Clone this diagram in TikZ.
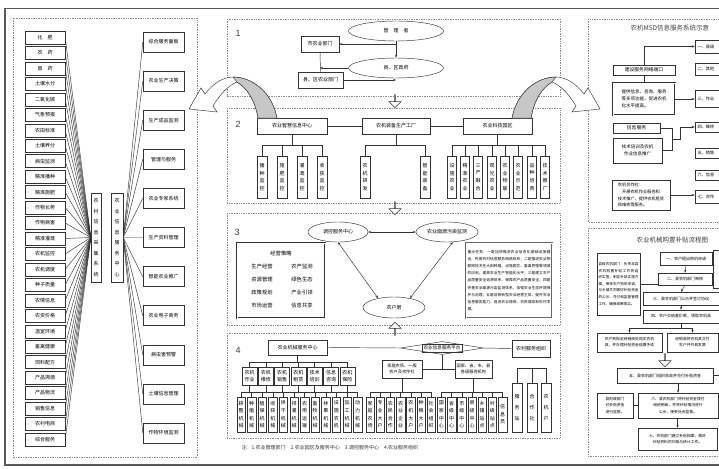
\documentclass[tikz,border=0pt]{standalone}
\usepackage{fontspec}
\setmainfont{Noto Sans CJK SC}
\newfontfamily\numfont{Liberation Sans}
\usetikzlibrary{shapes.geometric,shapes.arrows,arrows.meta}
\XeTeXlinebreaklocale "zh"
\XeTeXlinebreakskip=0pt plus 1pt
\newcommand\fsz[2]{\fontsize{#1}{#2}\selectfont}
\tikzset{
 ln/.style={line width=0.45pt, draw=black!80},
 bx/.style={ln, rectangle, inner sep=0pt, align=center, font=\fsz{5}{6}},
 vbx/.style={bx, text width=5.3pt, font=\fsz{5}{7.6}},
 frm/.style={draw=black!45, densely dotted, line width=0.7pt},
 arr/.style={ln, -{Stealth[length=3pt,width=2.2pt]}},
 darr/.style={ln, {Stealth[length=3pt,width=2.2pt]}-{Stealth[length=3pt,width=2.2pt]}},
 ell/.style={ln, ellipse, inner sep=0pt, font=\fsz{5}{6}},
 harr/.style={ln, single arrow, minimum height=13, minimum width=12, single arrow head extend=3pt, inner sep=0pt, fill=white},
 secnum/.style={font=\numfont\fontsize{9}{9}\selectfont, text=black!75},
 para/.style={ln, rectangle, inner sep=1.5pt, align=justify},
}
\begin{document}
\begin{tikzpicture}[x=1pt,y=-1pt]
\useasboundingbox (0,0) rectangle (719,468);
\clip (0,0) rectangle (719,468);
\fill[white] (0,0) rectangle (719,468);
\draw[black!65, line width=1.6pt] (5,8.5) rectangle (740,465);

% ---------- frames ----------
\draw[frm] (13,18) rectangle (197,457);
\draw[frm] (227,19) rectangle (560,96);
\draw[frm] (227,108) rectangle (560,203);
\draw[frm] (227,213) rectangle (560,325);
\draw[frm] (227,333) rectangle (560,438);
\draw[frm] (588,19) rectangle (740,222);
\draw[frm] (588,228) rectangle (740,456);

% ---------- left panel ----------
\node[vbx, minimum width=10, minimum height=89, font=\fsz{5}{10.5}] (b1) at (96,237.5) {农村信息采集系统};
\node[vbx, minimum width=12, minimum height=89, font=\fsz{5}{10.5}] (b2) at (117,237.5) {农业信息服务中心};
\foreach \t [count=\i from 0] in {化\quad 肥,农\quad 药,兽\quad 药,土壤水分,二氧化碳,气象预报,农田标准,土壤养分,病虫监测,精准播种,精准施肥,作物长势,作物病害,精准灌溉,农机监控,农机调度,种子质量,农情信息,农资价格,温室环境,畜禽健康,饲料配方,产品溯源,产品物流,销售信息,农村电商,综合服务} {
  \node[bx, minimum width=40, minimum height=13] (L\i) at (45,37.5+15.46*\i) {\t};
  \draw[ln] (L\i.east) -- (b1.west);
}
\foreach \t [count=\i from 0] in {综合服务面板,农业生产决策,生产成品监测,管理与服务,农业专家系统,生产资料管理,智能农业推广,农业电子商务,病虫害预警,土壤信息管理,作物环境监测} {
  \node[bx, minimum width=41, minimum height=20] (R\i) at (163.5,42+39.1*\i) {\t};
  \draw[ln] (b2.east) -- (R\i.west);
}

% ---------- section 1 ----------
\node[secnum] (n1) at (238,33) {1};
\node[ell, minimum width=95, minimum height=20] (e1) at (396,31) {管\quad 理\quad 者};
\node[ell, minimum width=95, minimum height=20] (e2) at (396,68) {县、区政府};
\node[bx, minimum width=38, minimum height=16] (m1) at (320,44) {市农业部门};
\node[bx, minimum width=45, minimum height=16] (m2) at (320.5,80) {县、区农业部门};
\draw[arr] (e1.south) |- (m1.east);
\draw[arr] (e1.south |- m1.east) -- (e2.north);
\draw[ln] (m1.south) -- (m2.north);
\draw[arr] (e2.west) -- (e2.west -| m1.south);
\draw[arr] (m2.east) -- (m2.east -| e2.south);
\node[harr, shape border rotate=270] (h1) at (395,101) {};

% ---------- section 2 ----------
\node[secnum] (n2) at (238,124) {2};
\coordinate (bus2) at (0,145);
\node[bx, minimum width=70, minimum height=16] (sA) at (292,126) {农业智慧信息中心};
\node[bx, minimum width=68, minimum height=16] (sB) at (396,126) {农机装备生产工厂};
\node[bx, minimum width=69, minimum height=16] (sC) at (497.5,126) {农业科技园区};
\draw[ln] (sA) -- (sB);
\draw[ln] (sB) -- (sC);
\foreach \x/\t [count=\i] in {262/播种监控,282/施肥监控,302/灌溉监控,322/收获监控} {
  \node[vbx, minimum width=10, minimum height=42] (a\i) at (\x,177) {\t};
  \draw[ln] (a\i.north) -- (a\i.north |- bus2);
}
\draw[ln] (a1.north |- bus2) -- (a4.north |- bus2);
\draw[ln] (sA.south) -- (sA.south |- bus2);
\foreach \x/\t [count=\i] in {365/农机研发,425/智能装备} {
  \node[vbx, minimum width=10, minimum height=42] (bb\i) at (\x,177) {\t};
  \draw[ln] (bb\i.north) -- (bb\i.north |- bus2);
}
\draw[ln] (bb1.north |- bus2) -- (bb2.north |- bus2);
\draw[ln] (sB.south) -- (sB.south |- bus2);
\foreach \x/\t [count=\i] in {452/设施农业,465/精准农业,478/三产融合,492/观光农业,505/农业物联,518/农业示范,532/品种培育,545/技术推广} {
  \node[vbx, minimum width=9, minimum height=42] (c\i) at (\x,177) {\t};
  \draw[ln] (c\i.north) -- (c\i.north |- bus2);
}
\draw[ln] (c1.north |- bus2) -- (c8.north |- bus2);
\draw[ln] (sC.south) -- (sC.south |- bus2);
\node[harr, shape border rotate=270] (h2) at (395,208) {};

% curved arrows
\filldraw[ln, fill=white] (277,118) .. controls (272,92) and (252,77) .. (233,77) .. controls (222,77) and (212,85) .. (205,94) -- (201,88) -- (189,109) -- (217,112) -- (213,106) .. controls (219,96) and (227,86) .. (237,82) .. controls (247,88) and (255,100) .. (258,118) -- cycle;
\filldraw[ln, fill=black!22] (277,118) .. controls (272,92) and (252,77) .. (233,77) -- (237,82) .. controls (247,88) and (255,100) .. (258,118) -- cycle;
\begin{scope}[xshift=789, xscale=-1]
\filldraw[ln, fill=white] (277,118) .. controls (272,92) and (252,77) .. (233,77) .. controls (222,77) and (212,85) .. (205,94) -- (201,88) -- (189,109) -- (217,112) -- (213,106) .. controls (219,96) and (227,86) .. (237,82) .. controls (247,88) and (255,100) .. (258,118) -- cycle;
\filldraw[ln, fill=black!22] (277,118) .. controls (272,92) and (252,77) .. (233,77) -- (237,82) .. controls (247,88) and (255,100) .. (258,118) -- cycle;
\end{scope}

% ---------- section 3 ----------
\node[secnum] (n3) at (237,232) {3};
\node[ell, minimum width=60, minimum height=20] (t1) at (338,232) {调控服务中心};
\node[ell, minimum width=62, minimum height=20] (t2) at (447,232) {农业面源污染监测};
\node[ell, minimum width=62, minimum height=21] (t3) at (394,307.5) {农户层};
\draw[darr] (t1.east) -- (t2.west);
\draw[darr] (t1.south) -- (t3.150);
\draw[darr] (t3.30) -- (t2.-60);
\node[ln, double, double distance=0.8pt, minimum width=88, minimum height=75, inner sep=0pt] (tb1) at (281,280.5) {};
\begin{scope}[every node/.style={font=\fsz{5.3}{6}}]
\node (tbh) at (281,253) {经营策略};
\node (tr1a) at (262,266) {生产经营}; \node (tr1b) at (302,266) {农产监测};
\node (tr2a) at (262,279) {资源管理}; \node (tr2b) at (302,279) {绿色生态};
\node (tr3a) at (262,292) {政策规划}; \node (tr3b) at (302,292) {产业引领};
\node (tr4a) at (262,305) {市场运营}; \node (tr4b) at (302,305) {信息共享};
\end{scope}
\node[para, double, double distance=0.8pt, draw=black!60, text width=83, minimum height=75, font=\fsz{3.7}{7.2}] (tb2) at (509,280.5) {重点任务：一是加快推进农业信息化基础设施建设，完善农村信息服务网络体系；二是推进农业物联网技术在大田种植、设施园艺、畜禽养殖等领域的应用，提高农业生产智能化水平；三是建立农产品质量安全追溯体系，保障农产品质量安全；四是完善农业面源污染监测体系，加强农业生态环境保护与治理；五是培育新型农业经营主体，提升农业信息服务能力，促进农业增效、农民增收和农村发展。};
\node[harr, shape border rotate=90] (h3) at (395,329) {};

% ---------- section 4 ----------
\node[secnum] (n4) at (238,350) {4};
\node[bx, minimum width=59, minimum height=15] (s4a) at (297.5,347.5) {农业机械服务中心};
\node[ln, diamond, aspect=6.4, minimum width=83, minimum height=13, inner sep=0pt] (dmd) at (442,348) {};
\node[bx, minimum width=40, minimum height=8, font=\fsz{4.6}{5}] (dmdt) at (dmd.center) {农业信息服务平台};
\node[bx, line width=1pt, minimum width=38, minimum height=17] (s4r) at (531,348.5) {农村服务组织};
\draw[ln] (s4a.east) -- (dmd.west);
\draw[ln] (dmd.east) -- (s4r.west);
\coordinate (ub1) at (0,362);
\coordinate (ub2) at (0,392);
\foreach \t [count=\i from 0] in {农机\\作业,农机\\维修,农机\\销售,农机\\租赁,技术\\培训,信息\\咨询,农机\\保险} {
  \node[bx, minimum width=15, minimum height=18, font=\fsz{5}{6.5}] (k\i) at (249.5+16.3*\i,376) {\t};
  \draw[ln] (k\i.north) -- (k\i.north |- ub1);
  \draw[ln] (k\i.south) -- (k\i.south |- ub2);
}
\draw[ln] (k0.north |- ub1) -- (k6.north |- ub1);
\draw[ln] (s4a.south) -- (s4a.south |- ub1);
\foreach \t [count=\i from 0] in {耕整机械,种植机械,植保机械,收获机械,烘干机械,排灌机械,农用运输,畜牧机械,林果机械,设施农机,加工机械,动力机械} {
  \node[vbx, minimum width=8.5, minimum height=35] (v\i) at (241+10.6*\i,414.5) {\t};
  \draw[ln] (v\i.north) -- (v\i.north |- ub2);
}
\draw[ln] (v0.north |- ub2) -- (v11.north |- ub2);
\node[bx, minimum width=40, minimum height=18, font=\fsz{4.2}{5.5}] (s4b) at (402,369) {家庭农场、一般\\农户及合作社};
\node[bx, minimum width=37, minimum height=18, font=\fsz{4.2}{5.5}] (s4c) at (473.5,369) {国家、省、市、县\\各级服务机构};
\draw[ln] (dmd.south) -- (dmd.south |- s4b.east);
\draw[ln] (s4b.east) -- (s4c.west);
\foreach \t [count=\i from 0] in {家庭农场,专业大户,农民合作,农业企业,农机大户,种粮大户,社会组织,国家中心,省级中心,市级中心,县级中心,乡镇站点,村级站点,信息员} {
  \node[vbx, minimum width=8.5, minimum height=35] (w\i) at (370+10.2*\i,414.5) {\t};
  \draw[ln] (w\i.north) -- (w\i.north |- ub2);
}
\draw[ln] (w0.north |- ub2) -- (w6.north |- ub2);
\draw[ln] (w7.north |- ub2) -- (w13.north |- ub2);
\draw[ln] (s4b.south) -- (s4b.south |- ub2);
\draw[ln] (s4c.south) -- (s4c.south |- ub2);
\coordinate (rg) at (0,368);
\foreach \x/\t [count=\i] in {517/服务站,532/合作社,546/农机户} {
  \node[vbx, minimum width=10, minimum height=49, font=\fsz{5}{11}] (g\i) at (\x,407.5) {\t};
  \draw[ln] (g\i.north) -- (g\i.north |- rg);
}
\draw[ln] (g1.north |- rg) -- (g3.north |- rg);
\node[anchor=west, font=\fsz{5}{6}, text=black!80] (cap) at (238,448) {注：1.农业管理部门\quad 2.农业园区及服务中心\quad 3.调控服务中心\quad 4.农业服务组织};

% ---------- right top panel ----------
\node[anchor=west, font=\fsz{6.5}{7}, text=black!75] (rt1) at (627,28) {农机MSD信息服务系统示意};
\node[bx, minimum width=62, minimum height=10, font=\fsz{4.8}{5}] (r1) at (644,70) {建设服务网络端口};
\node[bx, double, double distance=0.7pt, minimum width=62, minimum height=32, align=left, font=\fsz{4.5}{7}] (r2) at (644,99) {提供信息、咨询、服务\\等多项功能，促进农机\\化水平提高。};
\node[bx, minimum width=47, minimum height=10, font=\fsz{4.8}{5}] (r3) at (636.5,128) {信息服务};
\node[bx, minimum width=49, minimum height=25, font=\fsz{4.5}{7}] (r4) at (637.5,150.5) {技术培训及农机\\作业信息推广};
\node[bx, minimum width=58, minimum height=30, align=left, font=\fsz{4.2}{6.8}] (r5) at (641,195) {农机合作社：\\\quad 开展农机作业服务和\\技术推广，提供农机租赁\\和维修等服务。};
\foreach \y/\h/\t [count=\i] in {46.5/13/一、县级,69/12/二、其他,98.5/17/三、作业,127/10/四、维修,153/10/五、销售,175/10/六、信息,196.5/13/七、合作} {
  \node[bx, minimum width=50, minimum height=\h, text width=45, align=left, font=\fsz{4.2}{5}] (q\i) at (720,\y) {\t};
}
\draw[arr] (r1.north) |- (q1.west);
\draw[ln] (r1.south) -- (r2.north);
\draw[arr] (r2.east) -- (r2.east -| q3.west);
\draw[ln] (r3.east) -- ++(12,0) |- (r4.east);
\coordinate (brm) at (672,139.25);
\draw[arr] (brm) -- ++(8,0) |- (q4.west);
\draw[arr] (r5.east) -- (r5.east -| q7.west);

% ---------- right bottom panel ----------
\node[anchor=west, font=\fsz{6.5}{7}, text=black!75] (rt2) at (633,240) {农业机械购置补贴流程图};
\node[para, text width=40, minimum height=62, font=\fsz{3.6}{6.6}] (p1) at (618.5,284) {县级农机部门：负责本县农机购置补贴工作的组织实施，制定补贴实施方案，审核农户购机申请，与乡镇共同做好补贴资金的公示、兑付和监督管理工作，确保政策落实。};
\node[bx, minimum width=52, minimum height=13, font=\fsz{4}{5}] (p2) at (686,258.5) {一、农户提出购机申请};
\node[bx, minimum width=54, minimum height=12, font=\fsz{4}{5}] (p3) at (685,279) {二、县农机部门审核};
\node[bx, minimum width=9, minimum height=38] (p0) at (717.5,269) {};
\node[bx, minimum width=76, minimum height=13, font=\fsz{4}{5}] (p4) at (681,298.5) {三、县农机部门公示并签订协议};
\node[bx, minimum width=76, minimum height=13, font=\fsz{4}{5}] (p5) at (681,316.5) {四、农户交纳差价款，领取农机具};
\draw[arr] (p2.south) -- (p3.north);
\draw[arr] (p3.south) -- (p4.north);
\draw[arr] (p4.south) -- (p5.north);
\draw[ln] (p1.east) -- (p1.east -| p3.west);
\node[bx, minimum width=65, minimum height=19, font=\fsz{3.8}{6}] (p6) at (629.5,342.5) {农户到指定经销商处购买农机\\具，并办理补贴资金结算手续};
\node[bx, minimum width=51, minimum height=19, font=\fsz{3.8}{6}] (p7) at (692.5,342.5) {经销商将农机具交付\\农户并开具发票};
\coordinate (sp) at (0,328);
\draw[ln] (p5.south) -- (p5.south |- sp);
\draw[ln] (p6.north |- sp) -- (p7.north |- sp);
\draw[arr] (p6.north |- sp) -- (p6.north);
\draw[arr] (p7.north |- sp) -- (p7.north);
\node[harr, shape border rotate=270] (h4) at (665,360) {};
\node[bx, minimum width=96, minimum height=15, font=\fsz{4}{5}] (p8) at (665,375.5) {五、县农机部门组织验收并兑付补贴资金};
\coordinate (p8e) at (725,375.5);
\draw[ln] (p8.east) -- (p8e);
\node[bx, minimum width=80, minimum height=25, font=\fsz{3.8}{6.2}] (p9) at (678,405.5) {六、县农机部门将补贴资金拨付\\给经销商，并将补贴情况进行\\公示，接受社会监督。};
\node[bx, minimum width=36, minimum height=25, font=\fsz{3.8}{6.2}] (p10) at (615,405.5) {县财政部门\\对补贴资金\\进行监管。};
\node[bx, minimum width=79, minimum height=22, font=\fsz{3.8}{6.2}] (p11) at (677.5,439) {七、农机部门建立补贴档案，做好\\补贴资料的归档与统计工作。};
\draw[arr] (p8.south -| p9.north) -- (p9.north);
\draw[ln] (p10.east) -- (p9.west);
\draw[arr] (p9.south -| p11.north) -- (p11.north);
\end{tikzpicture}
\end{document}
